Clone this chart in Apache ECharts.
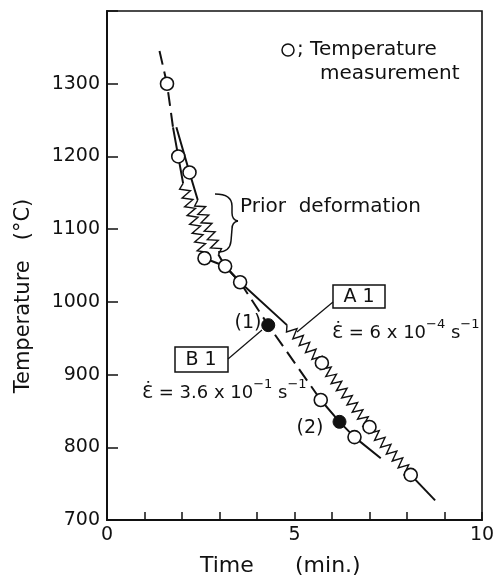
<!DOCTYPE html>
<html>
<head>
<meta charset="utf-8">
<script src="https://cdn.jsdelivr.net/npm/echarts@6/dist/echarts.min.js"></script>
<style>
  html, body { margin: 0; padding: 0; background: #fff; }
  #chart { width: 500px; height: 580px; }
</style>
</head>
<body>
<div id="chart"></div>
<script>
// tick labels
const xTickLabels = [0, 5, 10];
const yTickLabels = [700, 800, 900, 1000, 1100, 1200, 1300];

// path B (fast cooling, 3.6x10^-1 s^-1)
const bTime = [1.4, 1.6, 1.76, 1.9, 2.03, 2.6, 3.15, 3.55, 4.3, 5.7, 6.2, 6.6, 7.3];
const bTemp = [1345, 1300, 1240, 1200, 1163, 1060, 1049, 1027, 968, 865, 835, 814, 785];

// path A (slow, 6x10^-4 s^-1)
const aTime = [1.85, 2.2, 2.42, 2.97, 3.15, 3.55, 4.8, 5.73, 7.0, 8.1, 8.75];
const aTemp = [1240, 1178, 1140, 1065, 1049, 1027, 968, 916, 828, 762, 727];

// temperature measurements (open circles)
const measTime = [1.6, 1.9, 2.2, 2.6, 3.15, 3.55, 5.73, 5.7, 6.6, 7.0, 8.1];
const measTemp = [1300, 1200, 1178, 1060, 1049, 1027, 916, 865, 814, 828, 762];

// deformation points (1), (2)
const defTime = [4.3, 6.2];
const defTemp = [968, 835];

// how each path is drawn: [from index, to index, kind]
const bSegments = [[0, 2, 'dash'], [2, 4, 'solid'], [4, 5, 'zig'], [5, 7, 'solid'], [7, 9, 'dash'], [9, 12, 'solid']];
const aSegments = [[0, 2, 'solid'], [2, 3, 'zig'], [3, 6, 'solid'], [6, 9, 'zig'], [9, 10, 'solid']];

const INK = '#111';
const FONT = 'DejaVu Sans';

// saw-tooth drawn between two data points
function zigzag(params, api) {
  const p0 = api.coord([api.value(0), api.value(1)]);
  const p1 = api.coord([api.value(2), api.value(3)]);
  const dx = p1[0] - p0[0], dy = p1[1] - p0[1];
  const len = Math.hypot(dx, dy);
  const n = Math.max(2, Math.round(len / 4.5));
  const ux = dx / len, uy = dy / len;
  const nx = -uy, ny = ux;
  const amp = 5;
  const pts = [p0];
  for (let k = 1; k < n; k++) {
    const s = (k / n) * len;
    const side = k % 2 ? 1 : -1;
    pts.push([p0[0] + ux * s + nx * amp * side, p0[1] + uy * s + ny * amp * side]);
  }
  pts.push(p1);
  return {
    type: 'polyline',
    shape: { points: pts },
    style: { stroke: INK, lineWidth: 1.4, fill: null }
  };
}

function buildSeries(times, temps, segments) {
  const out = [];
  segments.forEach(([i0, i1, kind]) => {
    if (kind === 'zig') {
      const data = [];
      for (let i = i0; i < i1; i++) {
        data.push([times[i], temps[i], times[i + 1], temps[i + 1]]);
      }
      out.push({
        type: 'custom',
        renderItem: zigzag,
        data: data,
        z: 2,
        silent: true
      });
    } else {
      const data = [];
      for (let i = i0; i <= i1; i++) data.push([times[i], temps[i]]);
      out.push({
        type: 'line',
        data: data,
        symbol: 'none',
        z: 2,
        silent: true,
        lineStyle: {
          color: INK,
          width: 2,
          type: kind === 'dash' ? [14, 7] : 'solid'
        }
      });
    }
  });
  return out;
}

// stroke style for annotation lines
const ink = { stroke: INK, lineWidth: 1.5, fill: null };
const richEps = {
  e: { font: '18px ' + FONT, fill: INK, lineHeight: 24, verticalAlign: 'bottom' },
  s: { font: '13px ' + FONT, fill: INK, lineHeight: 24, verticalAlign: 'top' }
};

const chart = echarts.init(document.getElementById('chart'));

const option = {
  backgroundColor: '#fff',
  animation: false,
  grid: {
    left: 107, right: 18, top: 11, bottom: 60,
    show: true, borderColor: INK, borderWidth: 1.6,
    backgroundColor: 'transparent'
  },
  xAxis: {
    type: 'value',
    min: 0, max: 10, interval: 1,
    axisLine: { lineStyle: { color: INK, width: 2 } },
    axisTick: { inside: true, length: 8, lineStyle: { color: INK, width: 1.5 } },
    axisLabel: {
      color: INK, fontFamily: FONT, fontSize: 19, margin: 6,
      formatter: v => (xTickLabels.includes(v) ? String(v) : '')
    },
    splitLine: { show: false }
  },
  yAxis: {
    type: 'value',
    min: 700, max: 1400, interval: 100,
    axisLine: { show: true, lineStyle: { color: INK, width: 2 } },
    axisTick: { show: true, inside: true, length: 11, lineStyle: { color: INK, width: 1.5 } },
    axisLabel: {
      color: INK, fontFamily: FONT, fontSize: 19, margin: 7,
      formatter: v => (yTickLabels.includes(v) ? String(v) : '')
    },
    splitLine: { show: false }
  },
  series: [
    ...buildSeries(bTime, bTemp, bSegments),
    ...buildSeries(aTime, aTemp, aSegments),
    {
      type: 'scatter',
      data: measTime.map((t, i) => [t, measTemp[i]]),
      symbol: 'circle',
      symbolSize: 13,
      z: 5,
      itemStyle: { color: '#fff', borderColor: INK, borderWidth: 1.6, opacity: 1 }
    },
    {
      type: 'scatter',
      data: defTime.map((t, i) => [t, defTemp[i]]),
      symbol: 'circle',
      symbolSize: 13,
      z: 5,
      itemStyle: { color: INK, borderColor: INK, borderWidth: 1, opacity: 1 }
    }
  ],
  graphic: [
    // axis titles
    {
      type: 'text', x: 24, y: 296, rotation: Math.PI / 2,
      style: { text: 'Temperature   (°C)', font: '21px ' + FONT, fill: INK, align: 'center', verticalAlign: 'middle' }
    },
    {
      type: 'text', x: 200, y: 566,
      style: { text: 'Time', font: '22px ' + FONT, fill: INK, align: 'left', verticalAlign: 'middle' }
    },
    {
      type: 'text', x: 295, y: 566,
      style: { text: '(min.)', font: '22px ' + FONT, fill: INK, align: 'left', verticalAlign: 'middle' }
    },
    // legend note
    {
      type: 'circle', shape: { cx: 288, cy: 50, r: 6 },
      style: { stroke: INK, lineWidth: 1.5, fill: '#fff' }
    },
    {
      type: 'text', x: 297, y: 50,
      style: { text: '; Temperature', font: '20px ' + FONT, fill: INK, align: 'left', verticalAlign: 'middle' }
    },
    {
      type: 'text', x: 320, y: 74,
      style: { text: 'measurement', font: '20px ' + FONT, fill: INK, align: 'left', verticalAlign: 'middle' }
    },
    // prior deformation brace
    { type: 'bezierCurve', shape: { x1: 215, y1: 194, cpx1: 232, cpy1: 194, x2: 232, y2: 206 }, style: ink },
    { type: 'line', shape: { x1: 232, y1: 206, x2: 232, y2: 213 }, style: ink },
    { type: 'bezierCurve', shape: { x1: 232, y1: 213, cpx1: 232, cpy1: 220, x2: 238, y2: 221 }, style: ink },
    { type: 'bezierCurve', shape: { x1: 238, y1: 221, cpx1: 232, cpy1: 222, x2: 232, y2: 229 }, style: ink },
    { type: 'line', shape: { x1: 232, y1: 229, x2: 231, y2: 241 }, style: ink },
    { type: 'bezierCurve', shape: { x1: 231, y1: 241, cpx1: 230, cpy1: 252, x2: 218, y2: 252 }, style: ink },
    {
      type: 'text', x: 240, y: 207,
      style: { text: 'Prior  deformation', font: '20px ' + FONT, fill: INK, align: 'left', verticalAlign: 'middle' }
    },
    // point labels
    {
      type: 'text', x: 248, y: 323,
      style: { text: '(1)', font: '19px ' + FONT, fill: INK, align: 'center', verticalAlign: 'middle' }
    },
    {
      type: 'text', x: 310, y: 428,
      style: { text: '(2)', font: '19px ' + FONT, fill: INK, align: 'center', verticalAlign: 'middle' }
    },
    // B1 box
    {
      type: 'rect', shape: { x: 175, y: 347, width: 53, height: 25 },
      style: { stroke: INK, lineWidth: 1.5, fill: '#fff' }
    },
    {
      type: 'text', x: 201, y: 360,
      style: { text: 'B 1', font: '19px ' + FONT, fill: INK, align: 'center', verticalAlign: 'middle' }
    },
    { type: 'line', shape: { x1: 228, y1: 359, x2: 262, y2: 330 }, style: { stroke: INK, lineWidth: 1.2 } },
    {
      type: 'text', x: 142, y: 390,
      style: {
        text: '{e|Ɛ̇ = 3.6 x 10}{s|−1}{e| s}{s|−1}',
        align: 'left', verticalAlign: 'middle',
        rich: richEps
      }
    },
    // A1 box
    {
      type: 'rect', shape: { x: 333, y: 285, width: 52, height: 23 },
      style: { stroke: INK, lineWidth: 1.5, fill: '#fff' }
    },
    {
      type: 'text', x: 359, y: 297,
      style: { text: 'A 1', font: '19px ' + FONT, fill: INK, align: 'center', verticalAlign: 'middle' }
    },
    { type: 'line', shape: { x1: 333, y1: 302, x2: 297, y2: 332 }, style: { stroke: INK, lineWidth: 1.2 } },
    {
      type: 'text', x: 332, y: 330,
      style: {
        text: '{e|Ɛ̇ = 6 x 10}{s|−4}{e| s}{s|−1}',
        align: 'left', verticalAlign: 'middle',
        rich: richEps
      }
    }
  ]
};

chart.setOption(option);
</script>
</body>
</html>
